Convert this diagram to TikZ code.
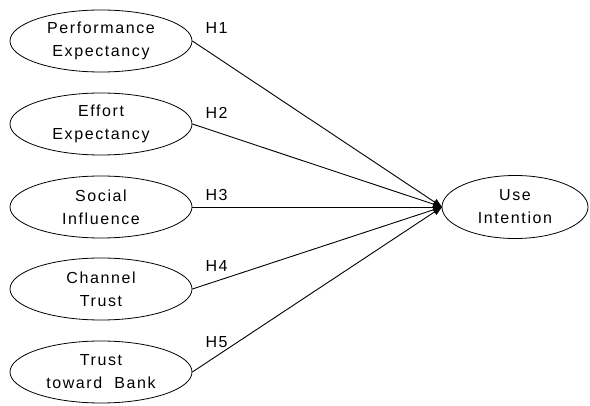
\documentclass[tikz,border=0pt]{standalone}
\usepackage{fontspec}
\setmainfont[LetterSpace=10]{Liberation Sans}
\usetikzlibrary{shapes.geometric,arrows.meta}
\begin{document}
\begin{tikzpicture}[x=1pt,y=-1pt,
  construct/.style={draw, ellipse, line width=0.8pt, minimum width=182pt, minimum height=62pt, inner sep=0pt, align=center, font=\fontsize{16}{23}\selectfont},
  path/.style={line width=0.9pt, -{Triangle[length=9pt,width=7pt]}},
  hyp/.style={font=\fontsize{16}{18}\selectfont, anchor=base west}]
\useasboundingbox (0,0) rectangle (590,406);
\node[construct] (pe) at (101,41) {Performance\\Expectancy};
\node[construct] (ee) at (101,124) {Effort\\Expectancy};
\node[construct] (si) at (101,207) {Social\\Influence};
\node[construct] (ct) at (101,289) {Channel\\Trust};
\node[construct] (tb) at (101,372) {Trust\\toward\ \ Bank};
\node[construct, minimum width=146pt, minimum height=63pt] (ui) at (515,207) {Use\\Intention};
\coordinate (tip) at (442,207);
\draw[path] (pe.east) -- (tip);
\draw[path] (ee.east) -- (tip);
\draw[path] (si.east) -- (tip);
\draw[path] (ct.east) -- (tip);
\draw[path] (tb.east) -- (tip);
\node[hyp] (h1) at (202,34) {H1};
\node[hyp] (h2) at (202,119) {H2};
\node[hyp] (h3) at (202,201) {H3};
\node[hyp] (h4) at (202,272) {H4};
\node[hyp] (h5) at (202,348) {H5};
\end{tikzpicture}
\end{document}
